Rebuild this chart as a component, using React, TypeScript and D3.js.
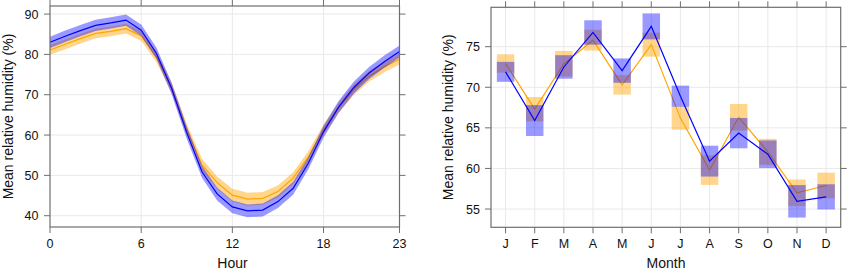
import React from "react";
import * as d3 from "d3";

const hours = [0, 1, 2, 3, 4, 5, 6, 7, 8, 9, 10, 11, 12, 13, 14, 15, 16, 17, 18, 19, 20, 21, 22, 23];
const blueHour = [83.0, 84.5, 85.9, 87.2, 87.8, 88.5, 86.0, 80.3, 71.6, 60.6, 50.9, 45.4, 42.2, 41.2, 41.4, 43.5, 46.8, 53.0, 60.8, 67.0, 71.8, 75.4, 78.2, 80.7];
const blueHourHw = [1.4, 1.4, 1.4, 1.4, 1.4, 1.4, 1.4, 1.4, 1.4, 1.5, 1.5, 1.6, 1.6, 1.6, 1.6, 1.6, 1.6, 1.5, 1.5, 1.5, 1.5, 1.5, 1.5, 1.5];
const orangeHour = [81.1, 82.5, 83.9, 85.2, 85.7, 86.4, 84.6, 79.4, 71.8, 61.4, 52.6, 48.2, 45.1, 44.1, 44.3, 46.0, 49.3, 54.6, 61.3, 66.8, 71.3, 74.6, 76.9, 78.8];
const orangeHourHw = [1.2, 1.2, 1.2, 1.2, 1.2, 1.2, 1.2, 1.3, 1.3, 1.4, 1.5, 1.5, 1.6, 1.6, 1.6, 1.5, 1.5, 1.4, 1.3, 1.3, 1.3, 1.3, 1.3, 1.3];
const hourTicks = [0, 6, 12, 18, 23];
const hourYTicks = [40, 50, 60, 70, 80, 90];

const months = ["J", "F", "M", "A", "M", "J", "J", "A", "S", "O", "N", "D"];
const blueMonth = [71.9, 65.9, 72.5, 76.75, 72.05, 77.5, 68.9, 60.9, 64.35, 61.75, 55.95, 56.5];
const blueMonthHw = [1.23, 1.9, 1.45, 1.5, 1.5, 1.6, 1.3, 1.9, 1.87, 1.7, 2.0, 1.55];
const orangeMonth = [72.93, 67.3, 72.9, 75.8, 70.3, 75.25, 66.2, 59.8, 66.3, 62.05, 57.0, 57.9];
const orangeMonthHw = [1.13, 1.5, 1.58, 1.28, 1.2, 1.48, 1.43, 1.83, 1.64, 1.6, 1.64, 1.58];
const monthYTicks = [55, 60, 65, 70, 75];

const FONT = "'Liberation Sans', Arial, Helvetica, sans-serif";
const FRAME = "#6e6e6e";
const GRID = "#e9e9e9";
const BLUE = "#0000ff";
const ORANGE = "#ffa500";

function Frame({ x0, x1, y0, y1, xt, yt, xs, ys, xl, yl, ylabelX, xTitle, xTitleX, yTitleX }: any) {
  const tl = 6;
  return (
    <g>
      {xt.map((t: number, i: number) => (
        <g key={"xt" + i}>
          <line x1={xs(t)} x2={xs(t)} y1={y1} y2={y1 + tl} stroke={FRAME} />
          <line x1={xs(t)} x2={xs(t)} y1={y0} y2={y0 - tl} stroke={FRAME} />
          <text x={xs(t)} y={248} textAnchor="middle" fontSize={12.5} fontFamily={FONT} fill="#111">{xl[i]}</text>
        </g>
      ))}
      {yt.map((t: number, i: number) => (
        <g key={"yt" + i}>
          <line x1={x0 - tl} x2={x0} y1={ys(t)} y2={ys(t)} stroke={FRAME} />
          <line x1={x1} x2={x1 + tl} y1={ys(t)} y2={ys(t)} stroke={FRAME} />
          <text x={ylabelX} y={ys(t)} dy="0.36em" textAnchor="end" fontSize={12.5} fontFamily={FONT} fill="#111">{yl[i]}</text>
        </g>
      ))}
      <rect x={x0} y={y0} width={x1 - x0} height={y1 - y0} fill="none" stroke={FRAME} strokeWidth={1.2} />
      <text x={xTitleX} y={268} textAnchor="middle" fontSize={14} fontFamily={FONT} fill="#111">{xTitle}</text>
      <text transform={`translate(${yTitleX},${(y0 + y1) / 2}) rotate(-90)`} textAnchor="middle" fontSize={14} fontFamily={FONT} fill="#111">Mean relative humidity (%)</text>
    </g>
  );
}

export default function App() {
  // Left panel
  const L = { x0: 50, x1: 399.5, y0: 6, y1: 227 };
  const xh = d3.scaleLinear().domain([0, 23]).range([L.x0, L.x1]);
  const yh = d3.scaleLinear().domain([37.2, 92]).range([L.y1, L.y0]);
  const bandH = (vals: number[], hw: number[]) =>
    d3.area<number>().x((_, i) => xh(hours[i])).y0((d, i) => yh(d - hw[i])).y1((d, i) => yh(d + hw[i]))(vals) || "";
  const lineH = (vals: number[]) => d3.line<number>().x((_, i) => xh(hours[i])).y((d) => yh(d))(vals) || "";

  // Right panel
  const R = { x0: 491, x1: 840.7, y0: 7.3, y1: 227.3 };
  const xm = d3.scaleLinear().domain([0.5, 12.5]).range([R.x0, R.x1]);
  const ym = d3.scaleLinear().domain([52.75, 79.85]).range([R.y1, R.y0]);
  const lineM = (vals: number[]) => d3.line<number>().x((_, i) => xm(i + 1)).y((d) => ym(d))(vals) || "";
  const bw = 0.3;
  const monthIdx = months.map((_, i) => i + 1);

  return (
    <svg width={847} height={270} style={{ position: "absolute", left: 0, top: 0, background: "#fff" }}>
      <rect width={847} height={270} fill="#fff" />
      {/* Left grid */}
      {hourTicks.slice(1, -1).map((t) => (
        <line key={"gh" + t} x1={xh(t)} x2={xh(t)} y1={L.y0} y2={L.y1} stroke={GRID} />
      ))}
      {hourYTicks.map((t) => (
        <line key={"ghy" + t} x1={L.x0} x2={L.x1} y1={yh(t)} y2={yh(t)} stroke={GRID} />
      ))}
      <path d={bandH(orangeHour, orangeHourHw)} fill={ORANGE} fillOpacity={0.45} />
      <path d={lineH(orangeHour)} fill="none" stroke={ORANGE} strokeWidth={1.2} />
      <path d={bandH(blueHour, blueHourHw)} fill={BLUE} fillOpacity={0.4} />
      <path d={lineH(blueHour)} fill="none" stroke={BLUE} strokeWidth={1.2} />
      <Frame {...L} xt={hourTicks} yt={hourYTicks} xs={xh} ys={yh} xl={hourTicks.map(String)} yl={hourYTicks.map(String)} ylabelX={38.5} xTitle="Hour" xTitleX={232.5} yTitleX={13} />

      {/* Right grid */}
      {monthIdx.map((t) => (
        <line key={"gm" + t} x1={xm(t)} x2={xm(t)} y1={R.y0} y2={R.y1} stroke={GRID} />
      ))}
      {monthYTicks.map((t) => (
        <line key={"gmy" + t} x1={R.x0} x2={R.x1} y1={ym(t)} y2={ym(t)} stroke={GRID} />
      ))}
      {orangeMonth.map((v, i) => (
        <rect key={"ob" + i} x={xm(i + 1 - bw)} width={xm(i + 1 + bw) - xm(i + 1 - bw)} y={ym(v + orangeMonthHw[i])} height={ym(v - orangeMonthHw[i]) - ym(v + orangeMonthHw[i])} fill={ORANGE} fillOpacity={0.45} />
      ))}
      <path d={lineM(orangeMonth)} fill="none" stroke={ORANGE} strokeWidth={1.2} />
      {blueMonth.map((v, i) => (
        <rect key={"bb" + i} x={xm(i + 1 - bw)} width={xm(i + 1 + bw) - xm(i + 1 - bw)} y={ym(v + blueMonthHw[i])} height={ym(v - blueMonthHw[i]) - ym(v + blueMonthHw[i])} fill={BLUE} fillOpacity={0.4} />
      ))}
      <path d={lineM(blueMonth)} fill="none" stroke={BLUE} strokeWidth={1.2} />
      <Frame {...R} xt={monthIdx} yt={monthYTicks} xs={xm} ys={ym} xl={months} yl={monthYTicks.map(String)} ylabelX={480} xTitle="Month" xTitleX={666} yTitleX={452.5} />
    </svg>
  );
}
